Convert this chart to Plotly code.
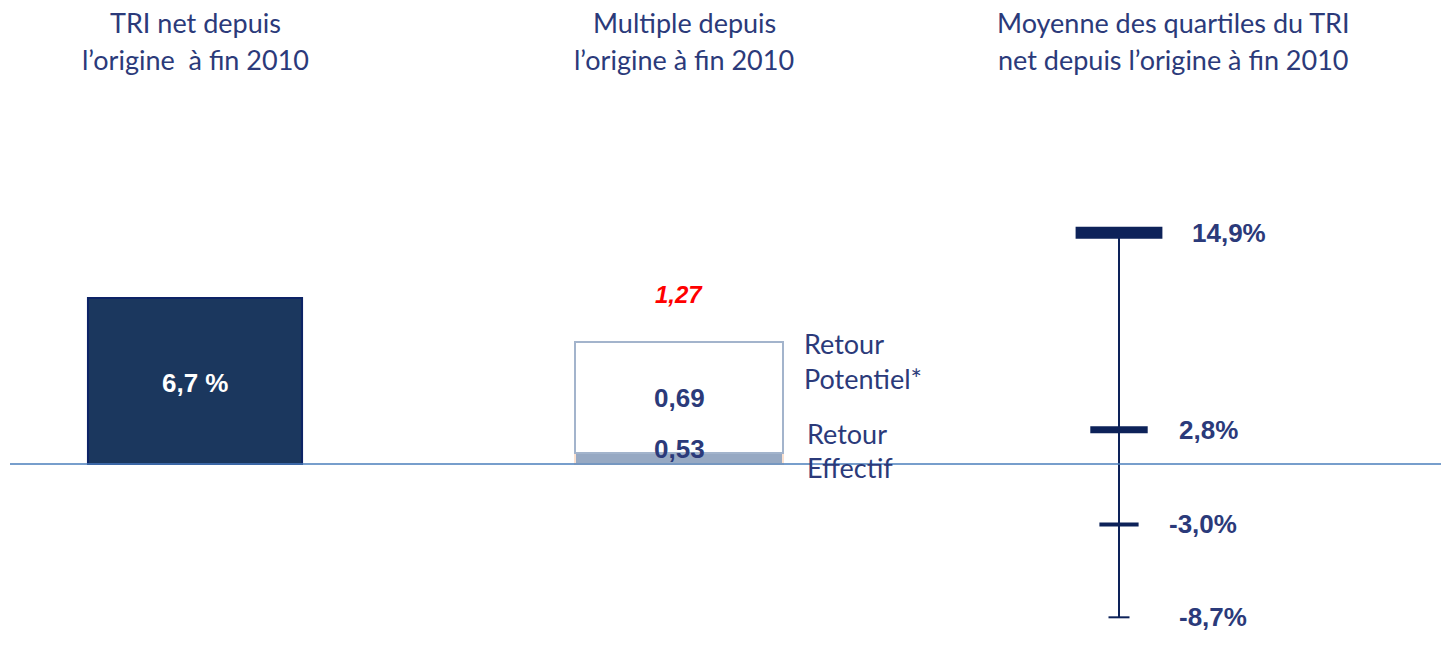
import plotly.graph_objects as go

# ---------------- data ----------------
tri_category = ["TRI net"]
tri_net = [6.7]

multiple_category = ["Multiple"]
multiple_effectif = [0.53]
multiple_potentiel = [0.69]
multiple_total_label = "1,27"

quartile_category = ["Quartiles"]
quartile_values = [14.9, 2.8, -3.0, -8.7]

titles = [
    ["TRI net depuis", "l’origine  à fin 2010"],
    ["Multiple depuis", "l’origine à fin 2010"],
    ["Moyenne des quartiles du TRI", "net depuis l’origine à fin 2010"],
]
legend_potentiel = ["Retour", "Potentiel*"]
legend_effectif = ["Retour", "Effectif"]


def fr(v, digits):
    return f"{v:.{digits}f}".replace(".", ",")


# ---------------- layout helpers ----------------
W, H = 1441, 648
NAVY_TXT = "#2b3a7a"
TITLE_FONT = dict(family="Lato, Carlito, sans-serif", size=27, color=NAVY_TXT)
VAL_FONT = dict(family="Liberation Sans, Arial, sans-serif", size=26, color=NAVY_TXT)


def yrange(zero_px, px_per_unit):
    return [-(H - zero_px) / px_per_unit, zero_px / px_per_unit]


def xdom(center_px, half_px):
    return [(center_px - half_px) / W, (center_px + half_px) / W]


fig = go.Figure()

# panel 1 : TRI net bar
fig.add_trace(go.Bar(
    x=tri_category, y=tri_net, width=0.549,
    marker=dict(color="#1b375e", line=dict(color="#0c2366", width=2)),
    xaxis="x", yaxis="y", hoverinfo="skip",
))

# panel 2 : multiple (effectif + potentiel stacked)
fig.add_trace(go.Bar(
    x=multiple_category, y=multiple_effectif, width=0.4245,
    marker=dict(color="#97a9c3", line=dict(color="#fbe1cf", width=2)),
    xaxis="x2", yaxis="y2", hoverinfo="skip",
))
fig.add_trace(go.Bar(
    x=multiple_category, y=multiple_potentiel, base=multiple_effectif, width=0.4245,
    marker=dict(color="white", line=dict(color="#a3b4cc", width=2)),
    xaxis="x2", yaxis="y3", hoverinfo="skip",
))

# panel 3 : quartiles
fig.add_trace(go.Scatter(
    x=quartile_category * 2, y=[min(quartile_values), max(quartile_values)],
    mode="lines", line=dict(color="#0d2259", width=2),
    xaxis="x3", yaxis="y4", hoverinfo="skip",
))
tick_len = [62, 41, 28, 15]
tick_thk = [12, 7, 4, 2]
for v, L, t in zip(quartile_values, tick_len, tick_thk):
    fig.add_trace(go.Scatter(
        x=quartile_category, y=[v], mode="markers",
        marker=dict(symbol="line-ew", size=L, line=dict(color="#0d2259", width=t)),
        xaxis="x3", yaxis="y4", hoverinfo="skip",
    ))

annotations = []
# titles
for cx, (l1, l2) in zip([195, 684, 1173], titles):
    for yy, txt in [(22, l1), (60, l2)]:
        annotations.append(dict(text=txt, x=cx / W, y=1 - yy / H, xref="paper", yref="paper",
                                xanchor="center", yanchor="middle", showarrow=False, font=TITLE_FONT))

# value labels
annotations.append(dict(text="<b>" + fr(tri_net[0], 1) + " %</b>", x=tri_category[0], y=tri_net[0] / 2,
                        xref="x", yref="y", showarrow=False, yshift=-2,
                        font=dict(VAL_FONT, color="white")))
annotations.append(dict(text="<b>" + fr(multiple_potentiel[0], 2) + "</b>", x=multiple_category[0],
                        y=multiple_effectif[0] + multiple_potentiel[0] / 2, xref="x2", yref="y3",
                        showarrow=False, font=VAL_FONT))
annotations.append(dict(text="<b>" + fr(multiple_effectif[0], 2) + "</b>", x=multiple_category[0],
                        y=multiple_effectif[0], xref="x2", yref="y2", showarrow=False,
                        yshift=4, font=VAL_FONT))
annotations.append(dict(text="<b><i>" + multiple_total_label + "</i></b>", x=multiple_category[0],
                        y=multiple_effectif[0] + multiple_potentiel[0], xref="x2", yref="y3",
                        yanchor="bottom", yshift=32, showarrow=False,
                        font=dict(VAL_FONT, size=24, color="#ff0000")))

# legend texts next to the multiple bar
for (x0, ys, lines) in [(802, (343, 378), legend_potentiel), (805, (433, 467), legend_effectif)]:
    for yy, txt in zip(ys, lines):
        annotations.append(dict(text=txt, x=x0 / W, y=1 - yy / H, xref="paper", yref="paper",
                                xanchor="left", yanchor="middle", showarrow=False, font=TITLE_FONT))

# quartile labels
q_shift = [71, 58, 48, 58]
for v, s in zip(quartile_values, q_shift):
    annotations.append(dict(text="<b>" + fr(v, 1) + "%</b>", x=quartile_category[0], y=v,
                            xref="x3", yref="y4", xanchor="left", xshift=s, showarrow=False,
                            font=VAL_FONT))

fig.update_layout(
    width=W, height=H, margin=dict(l=0, r=0, t=0, b=0),
    paper_bgcolor="white", plot_bgcolor="white", showlegend=False,
    annotations=annotations,
    xaxis=dict(domain=xdom(195, 195), range=[-0.5, 0.5], visible=False, anchor="y"),
    xaxis2=dict(domain=xdom(679, 245), range=[-0.5, 0.5], visible=False, anchor="y2"),
    xaxis3=dict(domain=xdom(1119, 195), range=[-0.5, 0.5], visible=False, anchor="y4"),
    yaxis=dict(domain=[0, 1], range=yrange(464, 166 / tri_net[0]), visible=False, anchor="x"),
    yaxis2=dict(domain=[0, 1], range=yrange(464, 11 / multiple_effectif[0]), visible=False, anchor="x2"),
    yaxis3=dict(domain=[0, 1], overlaying="y2",
                range=yrange(453 + multiple_effectif[0] * 111 / multiple_potentiel[0],
                             111 / multiple_potentiel[0]), visible=False, anchor="x2"),
    yaxis4=dict(domain=[0, 1], range=yrange(475.5, 16.3), visible=False, anchor="x3"),
    shapes=[dict(type="line", xref="paper", yref="y", x0=10 / W, x1=1, y0=0, y1=0,
                 line=dict(color="#4a7ebb", width=1.5), layer="above")],
)

fig.write_html("out.html", config={"displayModeBar": False},
               post_script="document.body.style.margin='0';document.body.style.overflow='hidden';")
